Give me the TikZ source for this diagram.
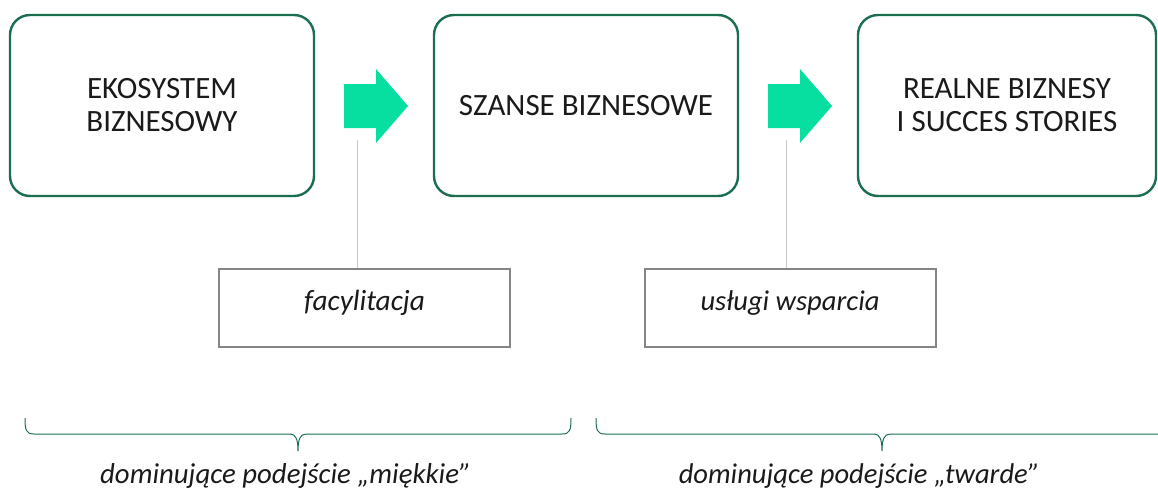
\documentclass[tikz,border=0pt]{standalone}
\usepackage{graphicx}
\usepackage{fontspec}
\setmainfont{Carlito}
\definecolor{boxgreen}{HTML}{1B6F4F}
\definecolor{mint}{HTML}{07DFA0}
\definecolor{linkgray}{HTML}{C8C8C8}
\definecolor{framegray}{HTML}{858585}
\definecolor{ink}{HTML}{1A1A1A}
% set a line of text to a given width
\newcommand{\fitto}[2]{\resizebox{#1}{!}{#2}}
\begin{document}
\begin{tikzpicture}[x=1pt,y=-1pt,
  stage/.style={draw=boxgreen, line width=2.4pt, rounded corners=20pt,
    minimum width=304pt, minimum height=181pt, inner sep=0pt, align=center,
    text=ink, font=\fontsize{31}{33}\selectfont},
  tool/.style={draw=framegray, line width=2pt, minimum width=291pt,
    minimum height=78pt, inner sep=0pt, text=ink, text height=18pt, text depth=13pt,
    font=\fontsize{28}{30}\selectfont\itshape},
  flow/.style={fill=mint},
  link/.style={draw=linkgray, line width=1pt},
  brace/.style={draw=boxgreen, line width=1pt},
  caption/.style={text=ink, inner sep=0pt, font=\fontsize{30}{34}\selectfont\itshape}]
\clip (0,0) rectangle (1158,490);

% three stages
\node[stage] (eco) at (162,105.5) {EKOSYSTEM\\BIZNESOWY};
\node[stage] (chance) at (586,105.5) {SZANSE BIZNESOWE};
\node[stage, minimum width=298pt] (real) at (1007,105.5) {REALNE BIZNESY\\I SUCCES STORIES};

% block arrows between stages
\fill[flow] (344,84) -- (376,84) -- (376,69) -- (408,106) -- (376,143) -- (376,128) -- (344,128) -- cycle;
\fill[flow] (768,84) -- (800,84) -- (800,69) -- (832,106) -- (800,143) -- (800,128) -- (768,128) -- cycle;

% supporting activities
\node[tool] (facil) at (364.5,307.5) {\fitto{121pt}{facylitacja}};
\node[tool] (support) at (790,307.5) {\fitto{179pt}{usługi wsparcia}};
\coordinate (p1) at (357,140);
\coordinate (p2) at (786,140);
\draw[link] (p1) -- (p1 |- facil.north);
\draw[link] (p2) -- (p2 |- support.north);

% braces
\draw[brace] (25,418) .. controls (25,430) and (26,434) .. (34,434) -- (290,434)
  .. controls (296,434) and (298,440) .. (298,451)
  .. controls (298,440) and (300,434) .. (306,434) -- (562,434)
  .. controls (570,434) and (571,430) .. (571,418);
\draw[brace] (596,418) .. controls (596,430) and (597,434) .. (605,434) -- (874,434)
  .. controls (880,434) and (882,440) .. (882,451)
  .. controls (882,440) and (884,434) .. (890,434) -- (1170,434);

\node[caption, anchor=west] (soft) at (100,476) {\fitto{371pt}{dominujące podejście „miękkie”}};
\node[caption, anchor=east] (hard) at (1040,476) {\fitto{361pt}{dominujące podejście „twarde”}};
\end{tikzpicture}
\end{document}
